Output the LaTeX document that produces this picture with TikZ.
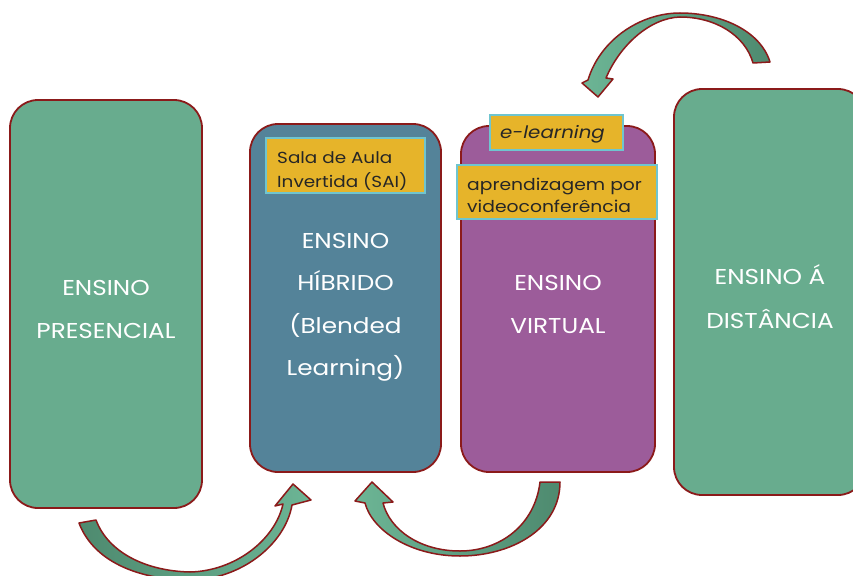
\documentclass[tikz,border=0pt]{standalone}
\usepackage{fontspec}
\setmainfont{Poppins}[FakeStretch=1.15]
\definecolor{bgreen}{HTML}{68AC8E}
\definecolor{bblue}{HTML}{548399}
\definecolor{bpurple}{HTML}{9C5C9A}
\definecolor{bred}{HTML}{8B1A1A}
\definecolor{tgold}{HTML}{E6B42A}
\definecolor{tcyan}{HTML}{6FC5CF}
\definecolor{tdark}{HTML}{262626}
\definecolor{adark}{HTML}{4E8A6F}
\definecolor{alight}{HTML}{6CB595}
\begin{document}
\begin{tikzpicture}[x=1pt,y=-1pt,
  bigbox/.style={draw=bred, line width=1.8pt, rounded corners=28pt, inner sep=0pt},
  bigtext/.style={text=white, align=center, font=\fontsize{21.5}{42.5}\selectfont, inner sep=0pt},
  tag/.style={draw=tcyan, fill=tgold, line width=1.2pt, inner sep=0pt},
  tagtext/.style={text=tdark, align=left, inner sep=0pt},
  bentarrow/.style={draw=bred, line width=1.5pt, line join=round}]
\useasboundingbox (0,0) rectangle (853,575);
\clip (0,0) rectangle (853,575);

\node[bigbox, fill=bgreen, minimum width=192pt, minimum height=408pt] (pres) at (106,304) {};
\node[bigbox, fill=bblue, minimum width=191pt, minimum height=348pt] (hib) at (345.5,298) {};
\node[bigbox, fill=bpurple, minimum width=194pt, minimum height=346pt] (virt) at (558,299) {};
\node[bigbox, fill=bgreen, minimum width=192pt, minimum height=406pt] (dist) at (770,292) {};

\node[bigtext] (prest) at (106,309.5) {ENSINO\\PRESENCIAL};
\node[bigtext] (hibt) at (345.5,307.5) {ENSINO\\HÍBRIDO\\(Blended\\Learning)};
\node[bigtext] (virtt) at (558,304.5) {ENSINO\\VIRTUAL};
\node[bigtext, font=\fontsize{21.5}{44}\selectfont] (distt) at (770,297) {ENSINO Á\\DISTÂNCIA};

\node[tag, minimum width=159pt, minimum height=55pt] (sai) at (345.5,165.5) {};
\node[tag, minimum width=133pt, minimum height=35pt] (elearn) at (556.5,132.5) {};
\node[tag, minimum width=200pt, minimum height=54pt] (video) at (557,192) {};

\node[tagtext, anchor=west, font=\fontsize{16}{24}\selectfont] (saitext) at (277,171) {Sala de Aula\\Invertida (SAI)};
\node[tagtext, font=\fontsize{17.2}{20}\selectfont\itshape] (elearntext) at (552.5,134.5) {e-learning};
\node[tagtext, anchor=west, font=\fontsize{16.3}{22}\selectfont] (videotext) at (467,195) {aprendizagem por\\videoconferência};

% arrow from presencial to hibrido
\fill[left color=adark, right color=alight] (79,523) .. controls (95,565) and (145,580) .. (190,580)
  .. controls (240,580) and (285,545) .. (292,505) -- (311,500) -- (293,484) -- (275,506) -- (283,504)
  .. controls (275,540) and (235,571) .. (190,572) .. controls (145,571) and (108,552) .. (96,520) -- cycle;
\draw[bentarrow] (79,523) .. controls (95,565) and (145,580) .. (190,580)
  .. controls (240,580) and (285,545) .. (292,505) -- (311,500) -- (293,484) -- (275,506) -- (283,504)
  .. controls (275,540) and (235,571) .. (190,572) .. controls (145,571) and (108,552) .. (96,520) -- cycle;

% arrow from virtual back to hibrido
\fill[left color=alight, right color=adark] (560,482) .. controls (560,530) and (510,556) .. (460,556)
  .. controls (410,556) and (372,530) .. (365,503) -- (355,501) -- (372,482) -- (393,502) -- (383,503)
  .. controls (390,530) and (420,551) .. (460,551) .. controls (500,551) and (535,525) .. (540,482) -- cycle;
\draw[bentarrow] (560,482) .. controls (560,530) and (510,556) .. (460,556)
  .. controls (410,556) and (372,530) .. (365,503) -- (355,501) -- (372,482) -- (393,502) -- (383,503)
  .. controls (390,530) and (420,551) .. (460,551) .. controls (500,551) and (535,525) .. (540,482) -- cycle;

% arrow from distancia to virtual
\fill[left color=alight, right color=adark] (770,62) .. controls (760,30) and (720,13) .. (680,13)
  .. controls (640,13) and (600,40) .. (588,80) -- (582,83) -- (598,97) -- (613,79) -- (606,78)
  .. controls (620,45) and (650,18) .. (680,17) .. controls (715,17) and (745,35) .. (753,63) -- cycle;
\draw[bentarrow] (770,62) .. controls (760,30) and (720,13) .. (680,13)
  .. controls (640,13) and (600,40) .. (588,80) -- (582,83) -- (598,97) -- (613,79) -- (606,78)
  .. controls (620,45) and (650,18) .. (680,17) .. controls (715,17) and (745,35) .. (753,63) -- cycle;
\end{tikzpicture}
\end{document}
